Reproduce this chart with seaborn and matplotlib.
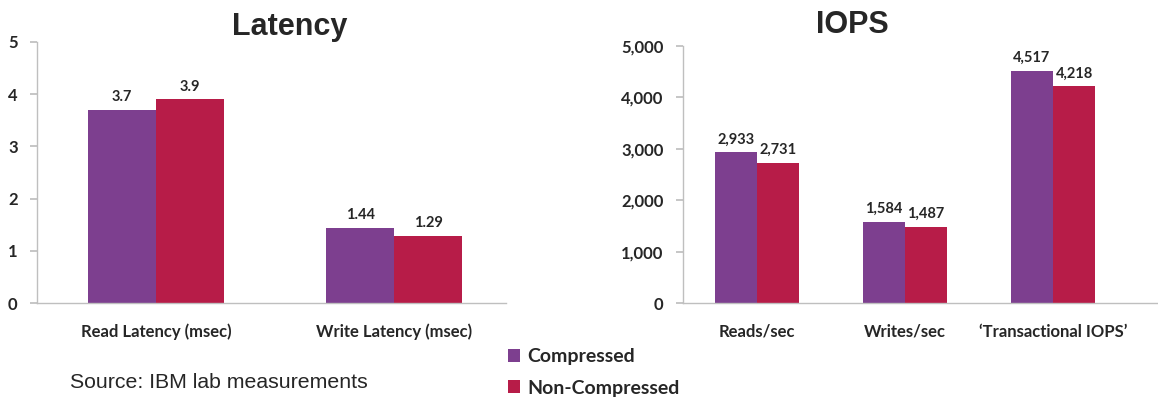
import matplotlib
matplotlib.use("Agg")
import matplotlib.pyplot as plt
import seaborn as sns
import pandas as pd
from matplotlib.patches import Patch
from matplotlib.ticker import FuncFormatter

series = ["Compressed", "Non-Compressed"]
colors = ["#7D3F8F", "#B71C48"]

lat_categories = ["Read Latency (msec)", "Write Latency (msec)"]
lat_compressed = [3.7, 1.44]
lat_noncompressed = [3.9, 1.29]

iops_categories = ["Reads/sec", "Writes/sec", "\u2018Transactional IOPS\u2019"]
iops_compressed = [2933, 1584, 4517]
iops_noncompressed = [2731, 1487, 4218]

lat_ticks = [0, 1, 2, 3, 4, 5]
iops_ticks = [0, 1000, 2000, 3000, 4000, 5000]

sns.set_theme(style="white")
plt.rcParams["font.family"] = ["Lato", "DejaVu Sans"]

def long_df(cats, a, b):
    rows = []
    for c, v in zip(cats, a):
        rows.append({"cat": c, "series": series[0], "val": v})
    for c, v in zip(cats, b):
        rows.append({"cat": c, "series": series[1], "val": v})
    return pd.DataFrame(rows)

fig = plt.figure(figsize=(11.58, 4.05), dpi=100)
ax1 = fig.add_axes([37/1158, 102/405, 469/1158, 261/405])
ax2 = fig.add_axes([683/1158, 102/405, 475/1158, 257/405])

spine_c = "#BFBFBF"

def style(ax, cats, ticks, ymax, fmt, labelfmt, xright):
    for s in ["top", "right"]:
        ax.spines[s].set_visible(False)
    for s in ["left", "bottom"]:
        ax.spines[s].set_color(spine_c)
        ax.spines[s].set_linewidth(1.0)
    ax.set_ylim(0, ymax)
    ax.set_yticks(ticks)
    ax.yaxis.set_major_formatter(FuncFormatter(fmt))
    ax.set_xlim(-0.5, xright)
    n = len(cats)
    ax.set_xticks([i + 0.5 for i in range(n - 1)], minor=False)
    ax.set_xticklabels([])
    ax.set_xticks(list(range(n)), minor=True)
    ax.set_xticklabels(cats, minor=True, fontsize=12, fontweight="bold")
    ax.tick_params(axis="x", which="major", length=5, color=spine_c, direction="out")
    ax.tick_params(axis="x", which="minor", length=0, pad=15)
    ax.tick_params(axis="y", length=5, color=spine_c, direction="out", left=True,
                   labelsize=12, pad=9)
    for t in ax.get_yticklabels():
        t.set_fontweight("bold")
    ax.set_xlabel("")
    ax.set_ylabel("")
    for cont in ax.containers:
        ax.bar_label(cont, labels=[labelfmt(v) for v in cont.datavalues],
                     padding=4, fontsize=10.5, fontweight="bold")

df1 = long_df(lat_categories, lat_compressed, lat_noncompressed)
sns.barplot(data=df1, x="cat", y="val", hue="series", palette=colors,
            width=0.57, ax=ax1, legend=False, saturation=1, edgecolor="none")
style(ax1, lat_categories, lat_ticks, 5, lambda v, p: f"{v:g}",
      lambda v: f"{v:g}", 1.47)

df2 = long_df(iops_categories, iops_compressed, iops_noncompressed)
sns.barplot(data=df2, x="cat", y="val", hue="series", palette=colors,
            width=0.57, ax=ax2, legend=False, saturation=1, edgecolor="none")
style(ax2, iops_categories, iops_ticks, 5000, lambda v, p: f"{int(v):,}",
      lambda v: f"{int(round(v)):,}", 2.71)

fig.text(290/1158, 1 - 27/405, "Latency", ha="center", va="center",
         fontsize=22, fontweight="bold", family=["Liberation Sans", "DejaVu Sans"])
fig.text(852/1158, 1 - 25/405, "IOPS", ha="center", va="center",
         fontsize=22, fontweight="bold", family=["Liberation Sans", "DejaVu Sans"])

fig.text(70/1158, 1 - 383/405, "Source: IBM lab measurements", ha="left", va="center",
         fontsize=15.3, family=["Liberation Sans", "DejaVu Sans"])

handles = [Patch(facecolor=c, edgecolor="none") for c in colors]
leg = fig.legend(handles, series, loc="upper left",
                 bbox_to_anchor=(508/1158, 1 - 348/405), frameon=False,
                 handlelength=0.64, handleheight=0.64, handletextpad=0.35,
                 labelspacing=0.75, borderaxespad=0, borderpad=0,
                 prop={"family": ["Lato", "DejaVu Sans"], "weight": "bold", "size": 14})

fig.savefig("out.png", dpi=100)
